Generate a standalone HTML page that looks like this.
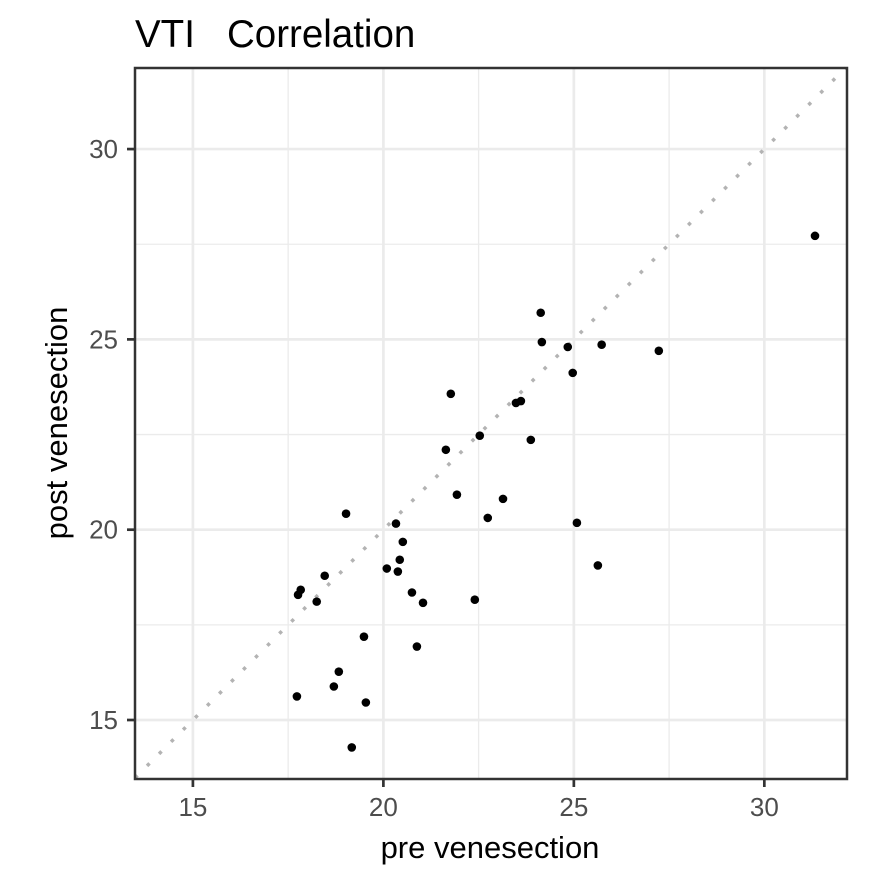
<!DOCTYPE html>
<html><head><meta charset="utf-8"><style>
body{margin:0;background:#fff}
svg text{font-family:"Liberation Sans",Arial,sans-serif}
</style></head><body>
<svg id="chart" width="885" height="885" viewBox="0 0 885 885">
<rect width="885" height="885" fill="#fff"/>
<text x="135" y="47" font-size="38.5" fill="#000" xml:space="preserve">VTI   Correlation</text>
<g id="grid"></g>
<g id="diag"></g>
<g id="points"></g>
<rect x="135" y="68" width="712" height="711" fill="none" stroke="#333" stroke-width="2.5"/>
<g id="axes"></g>
<text x="490" y="858" font-size="31" text-anchor="middle" fill="#000">pre venesection</text>
<text transform="translate(67,423) rotate(-90)" font-size="31" text-anchor="middle" fill="#000">post venesection</text>
</svg>
<script>
const preValues=[31.33,24.13,24.16,24.84,24.97,25.73,27.23,21.77,23.48,23.61,21.64,22.53,23.87,21.93,23.14,22.74,25.08,25.63,19.02,20.33,20.51,20.43,20.38,20.09,20.75,21.04,22.40,20.88,19.49,18.46,17.83,17.76,18.25,18.83,18.70,19.54,17.73,19.17];
const postValues=[27.72,25.70,24.93,24.80,24.12,24.86,24.70,23.57,23.33,23.38,22.10,22.47,22.36,20.92,20.81,20.31,20.18,19.06,20.42,20.16,19.68,19.21,18.90,18.98,18.35,18.08,18.16,16.93,17.19,18.79,18.42,18.29,18.11,16.27,15.88,15.46,15.62,14.28];
const xTicks=[15,20,25,30];
const yTicks=[15,20,25,30];
const xMinor=[17.5,22.5,27.5];
const yMinor=[17.5,22.5,27.5];
const NS="http://www.w3.org/2000/svg";
const L=135,R=847,T=68,B=779,X0=13.48,X1=32.17,Y0=13.45,Y1=32.13;
const sx=v=>L+(v-X0)/(X1-X0)*(R-L);
const sy=v=>B-(v-Y0)/(Y1-Y0)*(B-T);
function mk(tag,attrs,parent){const e=document.createElementNS(NS,tag);for(const k in attrs)e.setAttribute(k,attrs[k]);document.getElementById(parent).appendChild(e);return e;}
xMinor.forEach(v=>{const e=mk('line',{x1:sx(v),x2:sx(v),y1:T,y2:B,stroke:'#ebebeb','stroke-width':1.3},'grid');

});
yMinor.forEach(v=>{const e=mk('line',{x1:L,x2:R,y1:sy(v),y2:sy(v),stroke:'#ebebeb','stroke-width':1.3},'grid');

});
xTicks.forEach(v=>{const e=mk('line',{x1:sx(v),x2:sx(v),y1:T,y2:B,stroke:'#ebebeb','stroke-width':2.7},'grid');


const t=mk('line',{x1:sx(v),x2:sx(v),y1:B,y2:B+8,stroke:'#333','stroke-width':2.7},'axes');


const l=mk('text',{x:sx(v),y:B+37,'font-size':26,fill:'#4d4d4d','text-anchor':'middle'},'axes');l.textContent=v;

});
yTicks.forEach(v=>{const e=mk('line',{x1:L,x2:R,y1:sy(v),y2:sy(v),stroke:'#ebebeb','stroke-width':2.7},'grid');


const t=mk('line',{x1:L-8,x2:L,y1:sy(v),y2:sy(v),stroke:'#333','stroke-width':2.7},'axes');


const l=mk('text',{x:L-17,y:sy(v)+9,'font-size':26,fill:'#4d4d4d','text-anchor':'end'},'axes');l.textContent=v;

});
const lo=Math.max(X0,Y0),hi=Math.min(X1,Y1);
const d=mk('line',{x1:sx(lo),y1:sy(lo),x2:sx(hi),y2:sy(hi),stroke:'#b3b3b3','stroke-width':3.5,'stroke-dasharray':'3.5 13.5'},'diag');


preValues.forEach((v,i)=>{const c=mk('circle',{cx:sx(v),cy:sy(postValues[i]),r:4.3,fill:'#000'},'points');

});
</script>
</body></html>
